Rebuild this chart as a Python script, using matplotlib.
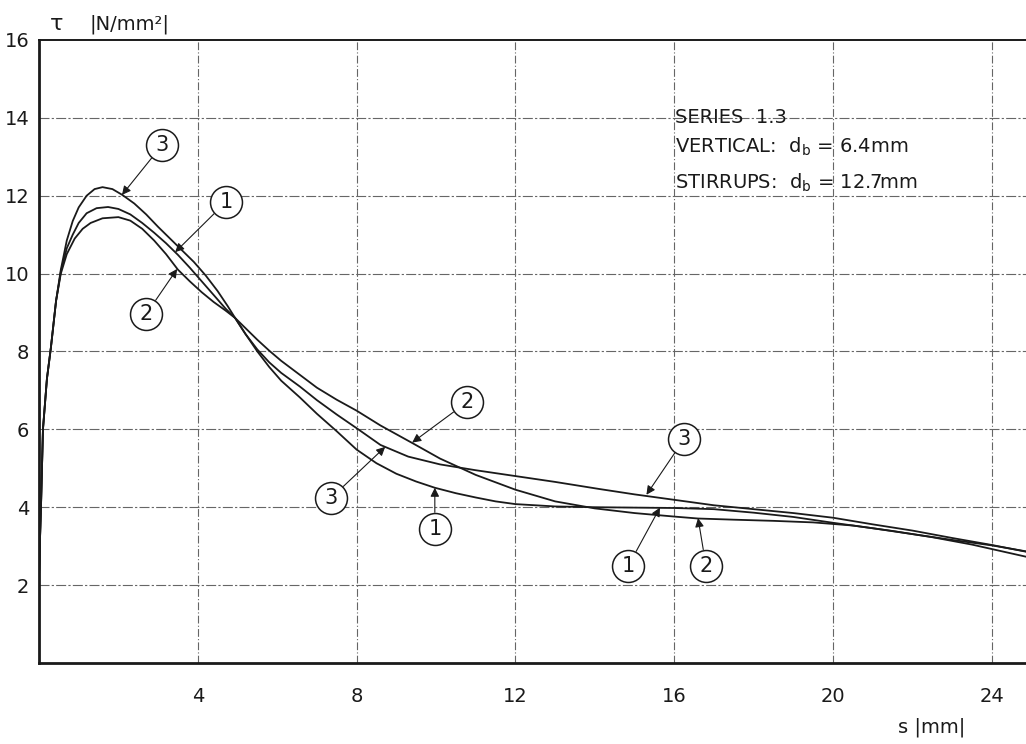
import matplotlib
matplotlib.use("Agg")
import matplotlib.pyplot as plt

# Bond stress vs slip, series 1.3
x_curve1 = [0, 0.02, 0.05, 0.1, 0.2, 0.3, 0.43, 0.55, 0.7, 0.85, 1.0, 1.2, 1.45, 1.74,
            2.0, 2.3, 2.6, 2.9, 3.2, 3.5, 3.8, 4.1, 4.4, 4.7, 4.94, 5.2, 5.5, 5.8, 6.1,
            6.57, 7.0, 7.5, 8.0, 8.5, 9.0, 9.5, 9.97, 10.5, 11.0, 11.5, 12.0, 13.0, 14.0,
            15.0, 16.0, 17.0, 18.0, 19.0, 20.0, 21.0, 22.0, 23.0, 24.0, 24.9]
y_curve1 = [2.2, 3.0, 4.0, 6.0, 7.3, 8.1, 9.3, 10.05, 10.65, 11.0, 11.3, 11.55, 11.68, 11.71,
            11.66, 11.52, 11.3, 11.05, 10.78, 10.48, 10.15, 9.8, 9.45, 9.1, 8.86, 8.45, 8.0, 7.6, 7.25,
            6.82, 6.4, 5.95, 5.48, 5.13, 4.86, 4.66, 4.5, 4.36, 4.25, 4.15, 4.08, 4.02, 4.0,
            3.99, 3.98, 3.95, 3.86, 3.75, 3.6, 3.46, 3.31, 3.16, 3.02, 2.86]

x_curve2 = [0, 0.02, 0.05, 0.1, 0.2, 0.3, 0.43, 0.55, 0.7, 0.9, 1.1, 1.3, 1.6, 2.0,
            2.3, 2.6, 2.9, 3.2, 3.5, 3.8, 4.1, 4.4, 4.7, 4.94, 5.2, 5.5, 5.8, 6.1, 6.57,
            7.0, 7.5, 8.0, 8.6, 9.4, 10.1, 11.0, 12.0, 13.0, 14.0, 15.0, 16.0, 16.6, 17.5,
            18.5, 19.5, 20.5, 21.5, 22.5, 23.5, 24.9]
y_curve2 = [2.2, 3.0, 4.0, 6.0, 7.3, 8.1, 9.3, 10.0, 10.5, 10.9, 11.15, 11.3, 11.42, 11.45,
            11.36, 11.15, 10.85, 10.5, 10.1, 9.8, 9.52, 9.27, 9.05, 8.86, 8.6, 8.3, 8.02, 7.76, 7.4,
            7.07, 6.76, 6.48, 6.1, 5.65, 5.25, 4.83, 4.45, 4.15, 3.97, 3.85, 3.76, 3.71, 3.68,
            3.65, 3.61, 3.53, 3.39, 3.23, 3.04, 2.72]

x_curve3 = [0, 0.02, 0.05, 0.1, 0.2, 0.3, 0.43, 0.55, 0.7, 0.85, 1.0, 1.2, 1.4, 1.6,
            1.85, 2.1, 2.4, 2.7, 3.0, 3.3, 3.6, 3.9, 4.2, 4.5, 4.75, 4.94, 5.2, 5.5, 5.8,
            6.1, 6.57, 7.0, 7.5, 8.0, 8.6, 9.3, 10.1, 11.0, 12.0, 13.0, 14.1, 15.0, 16.0,
            17.0, 18.0, 19.0, 20.0, 21.0, 22.0, 23.0, 24.0, 24.9]
y_curve3 = [2.2, 3.0, 4.0, 6.0, 7.3, 8.1, 9.3, 10.1, 10.85, 11.35, 11.7, 12.0, 12.17, 12.22,
            12.17, 12.02, 11.8, 11.52, 11.2, 10.9, 10.6, 10.3, 9.95, 9.55, 9.17, 8.86, 8.45, 8.05, 7.72,
            7.45, 7.1, 6.75, 6.38, 6.03, 5.6, 5.3, 5.1, 4.95, 4.8, 4.65, 4.47, 4.33, 4.19,
            4.05, 3.95, 3.85, 3.73, 3.56, 3.4, 3.21, 3.03, 2.85]

x_ticks = [4, 8, 12, 16, 20, 24]
y_ticks = [2, 4, 6, 8, 10, 12, 14, 16]

# circled curve numbers: (number, label position, arrow tip)
curve_labels = [
    ("3", (3.10, 13.30), (2.09, 12.02)),
    ("1", (4.71, 11.84), (3.43, 10.55)),
    ("2", (2.70, 8.96), (3.48, 10.12)),
    ("2", (10.78, 6.70), (9.40, 5.66)),
    ("3", (7.36, 4.24), (8.72, 5.55)),
    ("1", (9.97, 3.44), (9.97, 4.50)),
    ("3", (16.25, 5.75), (15.30, 4.32)),
    ("1", (14.84, 2.49), (15.64, 3.99)),
    ("2", (16.80, 2.49), (16.60, 3.72)),
]

plt.rcParams['font.family'] = ['DejaVu Sans']

fig = plt.figure(figsize=(10.26, 7.44), dpi=100)
ax = fig.add_axes([0.038, 0.1089, 0.962, 0.8374])
ax.set_xlim(0, 24.86)
ax.set_ylim(0, 16)

ink = '#1a1a1a'
for xs, ys in [(x_curve1, y_curve1), (x_curve2, y_curve2), (x_curve3, y_curve3)]:
    ax.plot(xs, ys, color=ink, lw=1.3, solid_joinstyle='round', zorder=3)

# grid
for gx in x_ticks:
    ax.axvline(gx, color='#666666', lw=0.8, ls=(0, (7, 2, 1, 2)), zorder=1)
for gy in y_ticks[:-1]:
    ax.axhline(gy, color='#666666', lw=0.8, ls=(0, (9, 2, 2, 2)), zorder=1)

ax.set_xticks(x_ticks)
ax.set_yticks(y_ticks)
ax.set_xticklabels([str(t) for t in x_ticks])
ax.set_yticklabels([str(t) for t in y_ticks])
ax.tick_params(length=0, labelsize=14, colors=ink)
ax.tick_params(axis='x', pad=17)
ax.tick_params(axis='y', pad=7)

ax.spines['right'].set_visible(False)
ax.spines['left'].set_linewidth(2.0)
ax.spines['bottom'].set_linewidth(2.0)
ax.spines['top'].set_linewidth(1.4)
for s in ax.spines.values():
    s.set_color(ink)

# circled numbers with leader arrows
for num, (lx, ly), (tx, ty) in curve_labels:
    ax.annotate('', xy=(tx, ty), xytext=(lx, ly),
                arrowprops=dict(arrowstyle='-|>', color=ink, lw=0.8,
                                mutation_scale=13, shrinkA=12, shrinkB=0),
                zorder=4)
    ax.plot(lx, ly, 'o', ms=23, mfc='white', mec=ink, mew=1.1, zorder=5)
    ax.text(lx, ly, num, ha='center', va='center', fontsize=15, color=ink, zorder=6)

# series description
txt = dict(transform=ax.transAxes, fontsize=14, color=ink, ha='left', va='center', zorder=6)
ax.text(0.644, 0.875, 'SERIES  1.3', **txt)
ax.text(0.644, 0.828, r'VERTICAL:  d$_\mathregular{b}$ = 6.4mm', **txt)
ax.text(0.644, 0.770, r'STIRRUPS:  d$_\mathregular{b}$ = 12.7mm', **txt)

# axis titles
fig.text(57 / 1026, 1 - 24 / 744, 'τ', fontsize=16, color=ink, ha='center', va='center')
fig.text(89 / 1026, 1 - 24 / 744, '|N/mm²|', fontsize=14, color=ink, ha='left', va='center')
fig.text(898 / 1026, 1 - 727 / 744, 's |mm|', fontsize=14, color=ink, ha='left', va='center')

fig.savefig('out.png', dpi=100, facecolor='white')
